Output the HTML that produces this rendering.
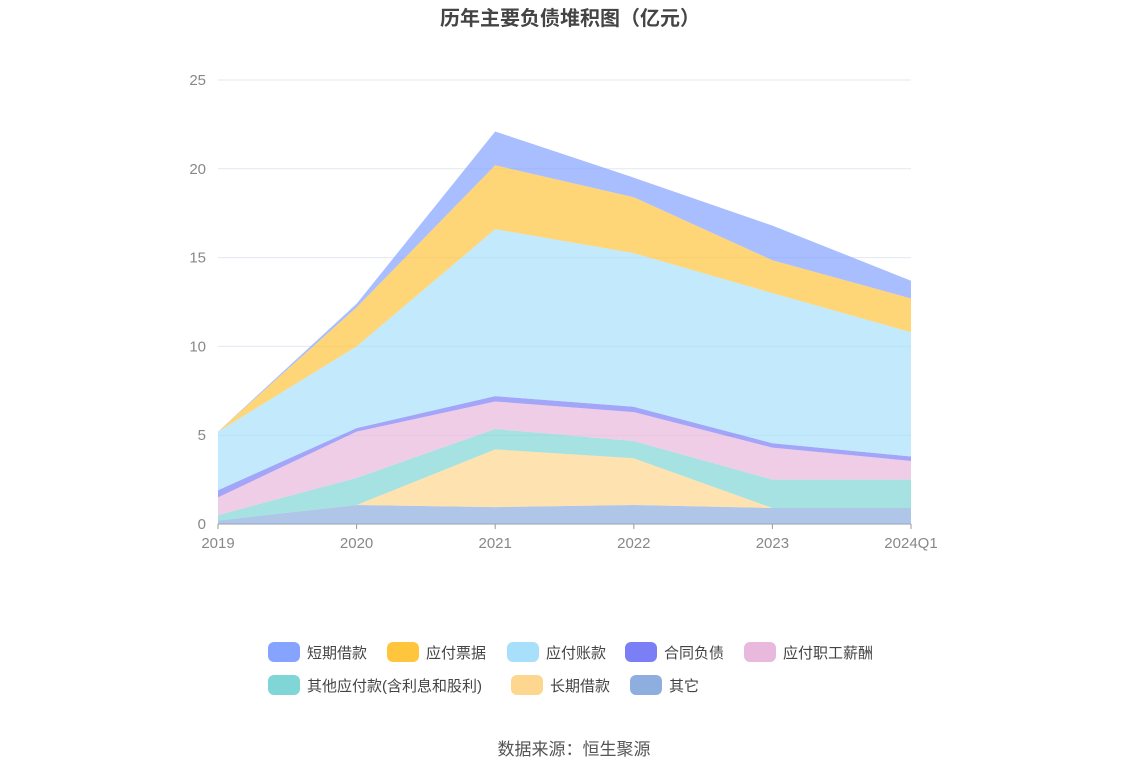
<!DOCTYPE html>
<html><head><meta charset="utf-8"><style>
body{margin:0;background:#fff;font-family:"Liberation Sans","Noto Sans CJK SC",sans-serif}
#c{position:relative;width:1148px;height:776px}
</style></head><body>
<div id="c">
<svg id="s" width="1148" height="776">
<text x="570" y="25" text-anchor="middle" font-size="20" font-weight="bold" fill="#444" font-family="Liberation Sans, Noto Sans CJK SC, sans-serif">历年主要负债堆积图（亿元）</text>
<g id="grid"></g><g id="areas"></g><g id="axes"></g><g id="legend"></g>
<text x="574" y="755" text-anchor="middle" font-size="17" fill="#555" font-family="Liberation Sans, Noto Sans CJK SC, sans-serif">数据来源：恒生聚源</text>
</svg></div>
<script>
const categories=["2019","2020","2021","2022","2023","2024Q1"];
const yTicks=[0,5,10,15,20,25];
const seriesNames=["其它","长期借款","其他应付款(含利息和股利)","应付职工薪酬","合同负债","应付账款","应付票据","短期借款"];
const other=[0.2,1.07,0.95,1.07,0.9,0.9];
const longLoan=[0,0,3.25,2.63,0,0];
const otherPay=[0.3,1.53,1.15,0.97,1.6,1.6];
const salary=[1.0,2.6,1.55,1.63,1.8,1.05];
const contract=[0.4,0.2,0.3,0.3,0.25,0.25];
const payable=[3.3,4.6,9.4,8.65,8.45,7.0];
const notes=[0,2.2,3.6,3.15,1.85,1.9];
const shortLoan=[0,0.2,1.9,1.1,1.95,1.0];
const series=[other,longLoan,otherPay,salary,contract,payable,notes,shortLoan];
const colors=["#8eaee0","#fdd68f","#80d6d6","#e9b8dd","#7b7ff5","#a8e0fb","#ffc53d","#85a3ff"];
const NS="http://www.w3.org/2000/svg";
const x0=218,x1=911,y0=524,y1=80,yMax=25;
const X=i=>x0+(x1-x0)*i/(categories.length-1);
const Y=v=>y0-(y0-y1)*v/yMax;
function mk(t,a,p){const e=document.createElementNS(NS,t);for(const k in a)e.setAttribute(k,a[k]);p.appendChild(e);return e;}
const F="Liberation Sans, Noto Sans CJK SC, sans-serif";
const grid=document.getElementById('grid'),axes=document.getElementById('axes'),areas=document.getElementById('areas'),leg=document.getElementById('legend');
yTicks.forEach(t=>{
 const l=mk('line',{x1:x0,x2:x1,y1:Y(t),y2:Y(t),stroke:t?"#e3e7f0":"#999"},grid);
 
 
 const tx=mk('text',{x:206,y:Y(t)+5,'text-anchor':'end','font-size':15,fill:'#888','font-family':F},axes);
 tx.textContent=t;
 
 
});
categories.forEach((c,i)=>{
 mk('line',{x1:X(i),x2:X(i),y1:y0,y2:y0+5,stroke:'#999'},axes);
 const tx=mk('text',{x:X(i),y:548,'text-anchor':'middle','font-size':15,fill:'#888','font-family':F},axes);
 tx.textContent=c;
 
 
});
let base=categories.map(()=>0);
series.forEach((s,k)=>{
 const top=base.map((b,i)=>b+s[i]);
 let d=top.map((v,i)=>(i?'L':'M')+X(i)+','+Y(v)).join(' ');
 for(let i=categories.length-1;i>=0;i--)d+=' L'+X(i)+','+Y(base[i]);
 const p=mk('path',{d:d+'Z',fill:colors[k],'fill-opacity':0.7,stroke:'none'},areas);
 
 
 base=top;
});
const order=[7,6,5,4,3,2,1,0];
const pos=[[268,652],[387,652],[507,652],[625,652],[744,652],[268,685],[511,685],[630,685]];
order.forEach((k,j)=>{
 const [lx,ly]=pos[j];
 const g=mk('g',{},leg);
 
 
 mk('rect',{x:lx,y:ly-10,width:32,height:20,rx:6,fill:colors[k]},g);
 const t=mk('text',{x:lx+39,y:ly+6,'font-size':15,fill:'#444','font-family':F},g);
 t.textContent=seriesNames[k];
});
</script>
</body></html>
